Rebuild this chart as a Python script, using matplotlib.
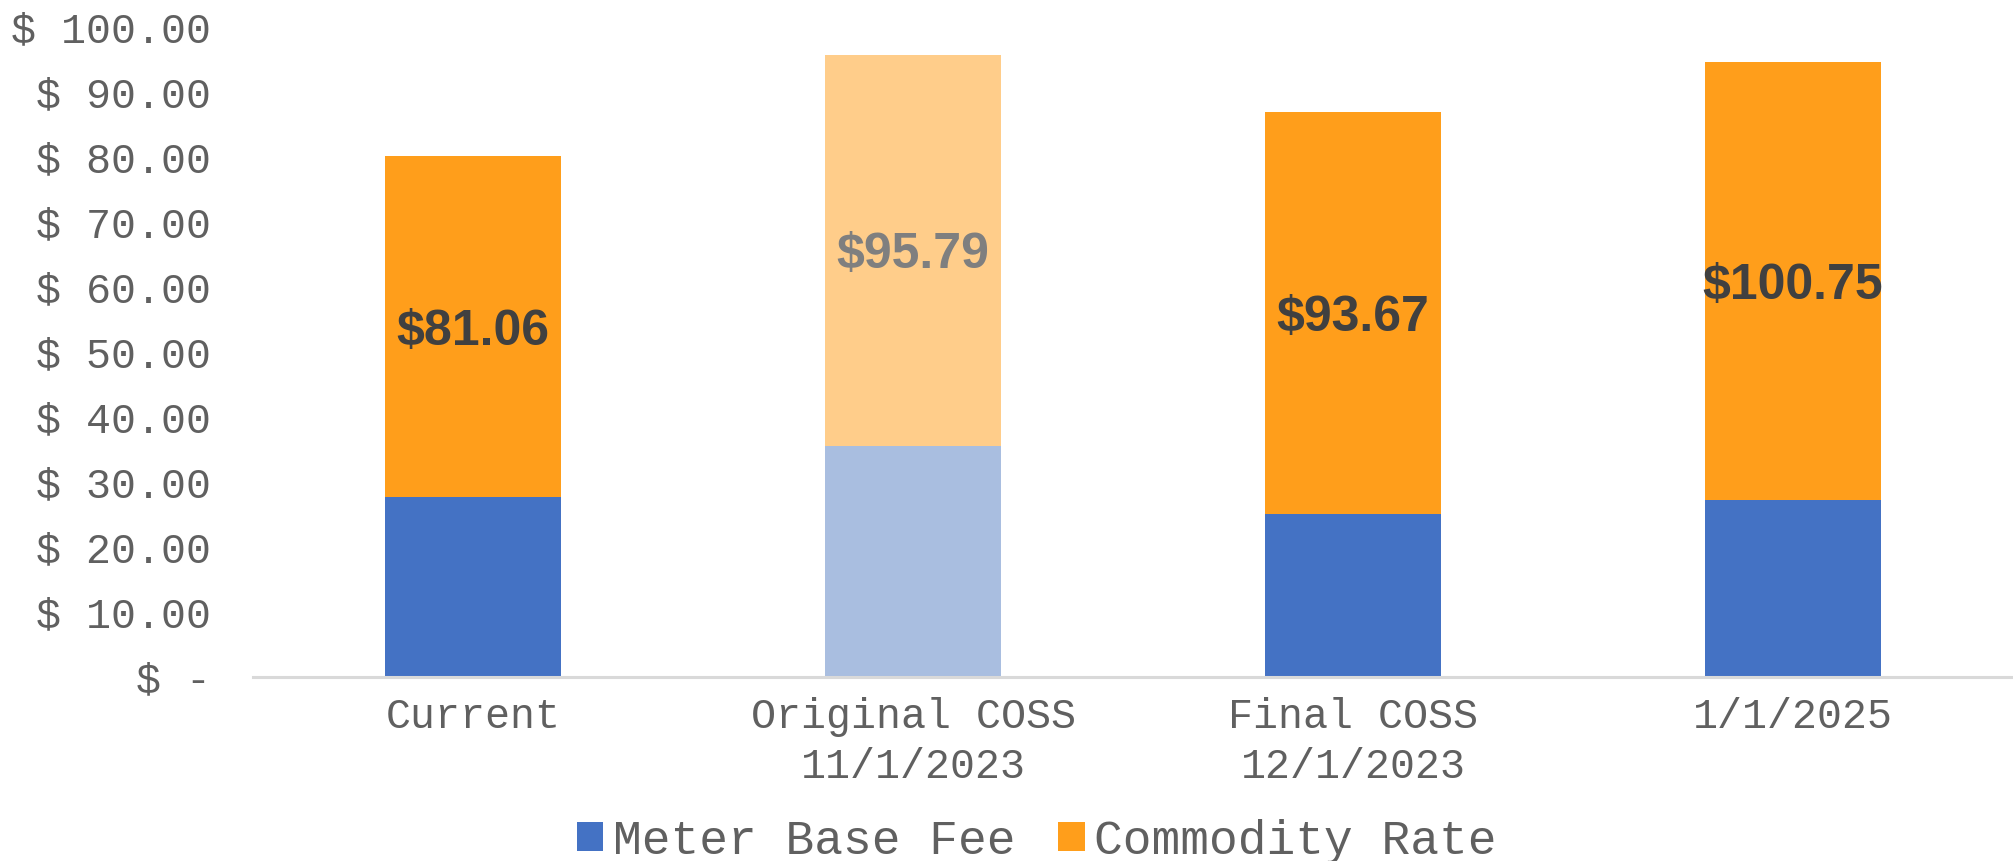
import matplotlib

matplotlib.use("Agg")

import matplotlib.pyplot as plt
import numpy as np
from matplotlib.patches import Patch

categories = ["Current", "Original COSS\n11/1/2023", "Final COSS\n12/1/2023", "1/1/2025"]
meter_base_fee = [27.6, 35.5, 25.0, 27.2]
commodity_rate = [52.5, 60.2, 61.8, 67.3]
total_labels = ["$81.06", "$95.79", "$93.67", "$100.75"]
faded = [False, True, False, False]
y_ticks = [0, 10, 20, 30, 40, 50, 60, 70, 80, 90, 100]
y_tick_labels = ["$ -", "$ 10.00", "$ 20.00", "$ 30.00", "$ 40.00", "$ 50.00",
                 "$ 60.00", "$ 70.00", "$ 80.00", "$ 90.00", "$ 100.00"]

BLUE, BLUE_LIGHT = "#4472C4", "#A9BEE0"
ORANGE, ORANGE_LIGHT = "#FF9E1B", "#FFCD8A"
MONO = "Liberation Mono"

fig = plt.figure(figsize=(20.13, 8.61), dpi=100)
ax = fig.add_axes([0.1257, 0.2142, 0.8743, 0.7548])

x = np.arange(len(categories))
width = 0.40
base_colors = [BLUE_LIGHT if f else BLUE for f in faded]
comm_colors = [ORANGE_LIGHT if f else ORANGE for f in faded]
ax.bar(x, meter_base_fee, width, color=base_colors, linewidth=0)
ax.bar(x, commodity_rate, width, bottom=meter_base_fee, color=comm_colors, linewidth=0)

# total label sits in the middle of the commodity segment
for i, lab in enumerate(total_labels):
    ymid = meter_base_fee[i] + commodity_rate[i] / 2
    ax.text(x[i], ymid, lab, ha="center", va="center_baseline", fontsize=36,
            fontweight="bold", family="Liberation Sans",
            color="#7F7F7F" if faded[i] else "#404040")

ax.set_xlim(-0.5, 3.5)
ax.set_ylim(0, 100)
ax.set_yticks(y_ticks)
ax.set_yticklabels(y_tick_labels, family=MONO, fontsize=30, color="#606060")
ax.set_xticks(x)
ax.set_xticklabels(categories, family=MONO, fontsize=30, color="#606060",
                   linespacing=1.3)
ax.tick_params(axis="y", length=0, pad=30)
ax.tick_params(axis="x", length=0, pad=15)

for s in ["top", "right", "left"]:
    ax.spines[s].set_visible(False)
ax.spines["bottom"].set_color("#D9D9D9")
ax.spines["bottom"].set_linewidth(2.2)

handles = [Patch(facecolor=BLUE, label="Meter Base Fee"),
           Patch(facecolor=ORANGE, label="Commodity Rate")]
fig.legend(handles=handles, loc="center", bbox_to_anchor=(0.515, 0.023), ncol=2,
           frameon=False, prop={"family": MONO, "size": 34.5},
           labelcolor="#606060", handlelength=0.55, handleheight=0.55,
           handletextpad=0.2, columnspacing=0.9, borderaxespad=0)

fig.savefig("out.png", dpi=100)
plt.close(fig)
